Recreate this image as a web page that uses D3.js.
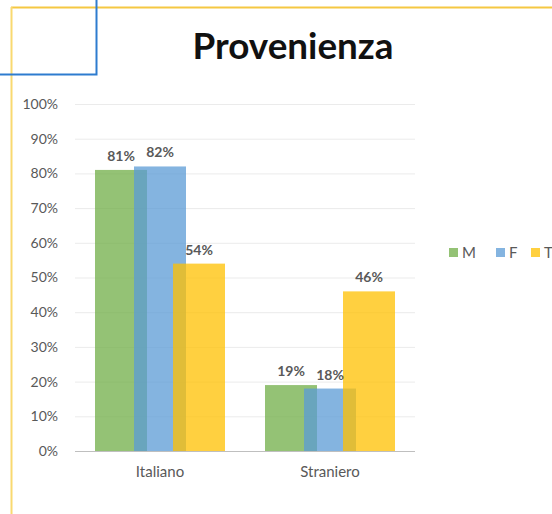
<!DOCTYPE html>
<meta charset="utf-8">
<head>
  <title>Provenienza</title>
  <script src="https://cdnjs.cloudflare.com/ajax/libs/d3/7.8.5/d3.min.js"></script>
</head>
<style>
  body { margin: 0; background: white; font-family: Lato, "Open Sans", sans-serif; }
</style>
<body>
<div id="chart"></div>
<script>
  var categories = ["Italiano", "Straniero"];
  var seriesNames = ["M", "F", "T"];
  var valuesM = [81, 19];
  var valuesF = [82, 18];
  var valuesT = [54, 46];
  var yTicks = [0, 10, 20, 30, 40, 50, 60, 70, 80, 90, 100];

  var series = [valuesM, valuesF, valuesT];
  var colors = ["#70AD47", "#5B9BD5", "#FFC000"];

  var WIDTH = 552, HEIGHT = 514;
  var svg = d3.select("#chart").append("svg")
    .attr("width", WIDTH)
    .attr("height", HEIGHT);

  // frame lines (yellow + blue corner)
  svg.append("line").attr("x1", 11).attr("y1", 7.5).attr("x2", WIDTH).attr("y2", 7.5)
    .attr("stroke", "#f5c842").attr("stroke-width", 2);
  svg.append("line").attr("x1", 11.5).attr("y1", 7).attr("x2", 11.5).attr("y2", HEIGHT)
    .attr("stroke", "#f9d970").attr("stroke-width", 2);
  svg.append("path").attr("d", "M96.5,0 V74.5 H0")
    .attr("fill", "none").attr("stroke", "#2e7ccf").attr("stroke-width", 2);

  var title = svg.append("text")
    .attr("x", 293).attr("y", 59)
    .attr("text-anchor", "middle")
    .attr("font-size", 34).attr("font-weight", "bold")
    .attr("fill", "#111")
    .text("Provenienza");
  // fit title to the width seen in the picture
  var tw = title.node().getComputedTextLength();
  title.attr("font-size", 34 * 201 / tw);

  var x = d3.scaleBand().domain(categories).range([75, 415]);
  var y = d3.scaleLinear().domain([0, 100]).range([451, 104]);

  // gridlines
  svg.selectAll(".grid").data(yTicks.slice(1)).enter().append("line")
    .attr("x1", 75).attr("x2", 415)
    .attr("y1", function(d) { return y(d) + 0.5; })
    .attr("y2", function(d) { return y(d) + 0.5; })
    .attr("stroke", "#ebebeb").attr("stroke-width", 1);

  var yAxis = svg.append("g")
    .attr("transform", "translate(66,0)")
    .call(d3.axisLeft(y).tickValues(yTicks).tickSize(0).tickPadding(8)
      .tickFormat(function(d) { return d + "%"; }));
  yAxis.select(".domain").remove();
  yAxis.selectAll("text").attr("font-size", 14).attr("fill", "#595959")
    .attr("font-family", "Lato, sans-serif");

  var barW = 52, offset = 39, groupW = barW + offset * 2;

  series.forEach(function(vals, i) {
    svg.selectAll(".bar" + i).data(categories).enter().append("rect")
      .attr("x", function(c) { return x(c) + x.bandwidth() / 2 - groupW / 2 + i * offset; })
      .attr("y", function(c, j) { return y(vals[j]); })
      .attr("width", barW)
      .attr("height", function(c, j) { return y(0) - y(vals[j]); })
      .attr("fill", colors[i])
      .attr("opacity", 0.75);
  });

  series.forEach(function(vals, i) {
    svg.selectAll(".lab" + i).data(categories).enter().append("text")
      .attr("x", function(c) { return x(c) + x.bandwidth() / 2 - groupW / 2 + i * offset + barW / 2; })
      .attr("y", function(c, j) { return y(vals[j]) - 9; })
      .attr("text-anchor", "middle")
      .attr("font-size", 14).attr("font-weight", "bold")
      .attr("fill", "#595959")
      .text(function(c, j) { return vals[j] + "%"; });
  });

  // baseline
  svg.append("line").attr("x1", 75).attr("x2", 415)
    .attr("y1", y(0) + 0.5).attr("y2", y(0) + 0.5)
    .attr("stroke", "#bfbfbf").attr("stroke-width", 1);

  var xAxis = svg.append("g")
    .attr("transform", "translate(0," + y(0) + ")")
    .call(d3.axisBottom(x).tickSize(0).tickPadding(15));
  xAxis.select(".domain").remove();
  xAxis.selectAll("text").attr("font-size", 15).attr("fill", "#595959")
    .attr("font-family", "Lato, sans-serif");

  // legend
  var legX = [449, 496, 531];
  seriesNames.forEach(function(n, i) {
    svg.append("rect").attr("x", legX[i]).attr("y", 248).attr("width", 9).attr("height", 9)
      .attr("fill", colors[i]).attr("opacity", 0.75);
    svg.append("text").attr("x", legX[i] + 13).attr("y", 258)
      .attr("font-size", 15).attr("fill", "#595959").text(n);
  });
</script>
</body>
